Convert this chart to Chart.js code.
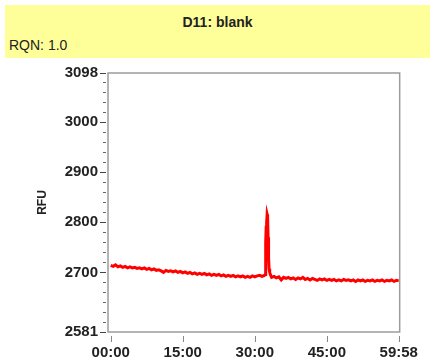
<!DOCTYPE html>
<html>
<head>
<meta charset="utf-8">
<script src="https://cdn.jsdelivr.net/npm/chart.js@4"></script>
<style>
  html, body { margin: 0; padding: 0; background: #ffffff; }
  #wrap { position: relative; width: 430px; height: 362px; overflow: hidden; }
  #head {
    position: absolute; left: 5px; top: 5px; width: 425px; height: 53px;
    background: #ffff99; font-family: "Liberation Sans", Arial, sans-serif; color: #222;
  }
  #title { position: absolute; left: 0; right: 0; top: 9px; text-align: center; font-size: 14px; font-weight: bold; }
  #rqn { position: absolute; left: 4px; top: 32px; font-size: 14px; }
  canvas { position: absolute; left: 0; top: 0; }
</style>
</head>
<body>
<div id="wrap">
  <canvas id="c" width="430" height="362"></canvas>
  <div id="head">
    <div id="title">D11: blank</div>
    <div id="rqn">RQN: 1.0</div>
  </div>
</div>
<script>
// Fluorescence trace of well D11 (blank): time in seconds, signal in RFU
const timeSec = [
  0, 30, 60, 90, 120, 150, 180, 210, 240, 270,
  300, 330, 360, 390, 420, 450, 480, 510, 540, 570,
  600, 630, 660, 690, 720, 750, 780, 810, 840, 870,
  900, 930, 960, 990, 1020, 1050, 1080, 1110, 1140, 1170,
  1200, 1230, 1260, 1290, 1320, 1350, 1380, 1410, 1440, 1470,
  1500, 1530, 1560, 1590, 1620, 1650, 1680, 1710, 1740, 1770,
  1800, 1830, 1860, 1890, 1920, 1930, 1936, 1942, 1948, 1954,
  1960, 1966, 1972, 1978, 1986, 1996, 2010, 2040, 2070, 2100,
  2130, 2160, 2190, 2220, 2250, 2280, 2310, 2340, 2370, 2400,
  2430, 2460, 2490, 2520, 2550, 2580, 2610, 2640, 2670, 2700,
  2730, 2760, 2790, 2820, 2850, 2880, 2910, 2940, 2970, 3000,
  3030, 3060, 3090, 3120, 3150, 3180, 3210, 3240, 3270, 3300,
  3330, 3360, 3390, 3420, 3450, 3480, 3510, 3540, 3570, 3598
];
const rfu = [
  2714, 2712, 2715, 2711, 2713, 2710, 2712, 2709, 2711, 2709,
  2710, 2708, 2709, 2707, 2709, 2706, 2708, 2705, 2707, 2704,
  2705, 2703, 2700, 2704, 2702, 2703, 2701, 2703, 2700, 2702,
  2699, 2701, 2698, 2700, 2697, 2699, 2696, 2698, 2696, 2698,
  2695, 2697, 2694, 2696, 2694, 2696, 2693, 2695, 2692, 2694,
  2692, 2694, 2691, 2693, 2691, 2693, 2690, 2692, 2690, 2693,
  2691, 2693, 2694, 2692, 2694, 2696, 2760, 2790, 2800, 2816,
  2812, 2770, 2730, 2708, 2700, 2695, 2690, 2692, 2689, 2691,
  2685, 2690, 2688, 2690, 2687, 2689, 2686, 2689, 2687, 2690,
  2686, 2688, 2685, 2688, 2686, 2684, 2687, 2685, 2687, 2684,
  2686, 2684, 2686, 2683, 2685, 2683, 2686, 2684, 2685, 2683,
  2685, 2682, 2685, 2683, 2685, 2682, 2684, 2683, 2685, 2682,
  2684, 2683, 2685, 2682, 2684, 2683, 2685, 2682, 2684, 2683
];
const xTicks = [0, 900, 1800, 2700, 3598];
const yTicks = [2581, 2700, 2800, 2900, 3000, 3098];
const yMinorTicks = [2600, 2620, 2640, 2660, 2680, 2720, 2740, 2760, 2780,
  2820, 2840, 2860, 2880, 2920, 2940, 2960, 2980, 3020, 3040, 3060, 3080];

const points = timeSec.map((t, i) => ({ x: t, y: rfu[i] }));

function mmss(sec) {
  const m = Math.floor(sec / 60), s = Math.round(sec % 60);
  return String(m).padStart(2, '0') + ':' + String(s).padStart(2, '0');
}

// Box frame plus outside tick marks, positioned through the chart's scales
const frameAndTicks = {
  id: 'frameAndTicks',
  afterDatasetsDraw(chart) {
    const { ctx, chartArea: a, scales } = chart;
    const xs = scales.x, ys = scales.y;
    ctx.save();
    ctx.strokeStyle = '#9c9c9c';
    ctx.lineWidth = 1.5;
    ctx.strokeRect(a.left, a.top, a.right - a.left, a.bottom - a.top);

    ctx.lineWidth = 1;
    ctx.strokeStyle = '#444';
    yTicks.forEach(v => {
      const y = Math.round(ys.getPixelForValue(v)) + 0.5;
      ctx.beginPath(); ctx.moveTo(a.left - 8, y); ctx.lineTo(a.left - 2, y); ctx.stroke();
    });
    ctx.strokeStyle = '#666';
    yMinorTicks.forEach(v => {
      const y = Math.round(ys.getPixelForValue(v)) + 0.5;
      ctx.beginPath(); ctx.moveTo(a.left - 5, y); ctx.lineTo(a.left - 2, y); ctx.stroke();
    });
    ctx.strokeStyle = '#888';
    xTicks.forEach(v => {
      const x = Math.round(xs.getPixelForValue(v)) + 0.5;
      ctx.beginPath(); ctx.moveTo(x, a.bottom + 4); ctx.lineTo(x, a.bottom + 10); ctx.stroke();
    });
    ctx.restore();
  }
};

new Chart(document.getElementById('c'), {
  type: 'line',
  data: {
    datasets: [{
      data: points,
      borderColor: '#ff0000',
      borderWidth: 3,
      pointRadius: 0,
      tension: 0,
      fill: false
    }]
  },
  options: {
    responsive: false,
    animation: false,
    events: [],
    layout: { padding: { top: 73, right: 29, left: 0, bottom: 0 } },
    plugins: { legend: { display: false }, tooltip: { enabled: false } },
    scales: {
      x: {
        type: 'linear',
        min: -34,
        max: 3610,
        afterFit(s) { s.height = 30; },
        afterBuildTicks(s) { s.ticks = xTicks.map(v => ({ value: v })); },
        grid: { display: false, drawTicks: false },
        border: { display: false },
        ticks: {
          autoSkip: false,
          maxRotation: 0,
          padding: 12,
          color: '#222',
          font: { family: 'Liberation Sans', size: 15, weight: 'bold' },
          callback: v => mmss(v)
        }
      },
      y: {
        type: 'linear',
        min: 2581,
        max: 3098,
        afterFit(s) { s.width = 108; },
        afterBuildTicks(s) { s.ticks = yTicks.map(v => ({ value: v })); },
        grid: { display: false, drawTicks: false },
        border: { display: false },
        ticks: {
          autoSkip: false,
          padding: 10,
          color: '#222',
          font: { family: 'Liberation Sans', size: 15, weight: 'bold' },
          callback: v => String(v)
        },
        title: {
          display: true,
          text: 'RFU',
          color: '#222',
          padding: { top: 35, bottom: 0 },
          font: { family: 'Liberation Sans', size: 12, weight: 'bold' }
        }
      }
    }
  },
  plugins: [frameAndTicks]
});
</script>
</body>
</html>
